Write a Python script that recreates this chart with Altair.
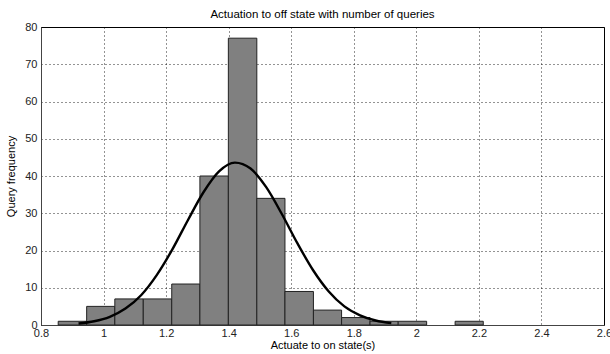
import altair as alt
import pandas as pd

# Histogram bin edges (s) and counts
edges = [0.855, 0.946, 1.036, 1.127, 1.218, 1.308, 1.399, 1.490, 1.580,
         1.671, 1.761, 1.852, 1.942, 2.033, 2.124, 2.214]
counts = [1, 5, 7, 7, 11, 40, 77, 34, 9, 4, 2, 1, 1, 0, 1]

# Fitted curve points
curve_x = [0.92, 0.97, 1.02, 1.07, 1.12, 1.17, 1.22, 1.27, 1.32, 1.37, 1.42,
           1.47, 1.52, 1.57, 1.62, 1.67, 1.72, 1.77, 1.82, 1.87, 1.92]
curve_y = [0.4, 1.0, 2.2, 4.4, 8.0, 13.4, 20.3, 28.2, 35.7, 41.3, 43.6,
           42.0, 37.0, 29.8, 21.9, 14.7, 9.0, 5.0, 2.6, 1.2, 0.5]

x_ticks = [0.8, 1.0, 1.2, 1.4, 1.6, 1.8, 2.0, 2.2, 2.4, 2.6]
y_ticks = [0, 10, 20, 30, 40, 50, 60, 70, 80]

bars = pd.DataFrame({
    "left": edges[:-1],
    "right": edges[1:],
    "count": counts,
})
bars = bars[bars["count"] > 0]
curve = pd.DataFrame({"x": curve_x, "y": curve_y})

FONT = "Liberation Sans"

x_scale = alt.Scale(domain=[0.8, 2.6], nice=False, zero=False)
y_scale = alt.Scale(domain=[0, 80], nice=False)

x_axis = alt.Axis(values=x_ticks, format="~g", title="Actuate to on state(s)",
                  grid=True, gridColor="#000", gridDash=[1, 3], gridOpacity=0.85,
                  labelFlush=False, labelOverlap=False, ticks=False, labelPadding=2,
                  domainColor="#444", titlePadding=1)
y_axis = alt.Axis(values=y_ticks, title="Query frequency", labelOverlap=False,
                  grid=True, gridColor="#000", gridDash=[1, 3], gridOpacity=0.85,
                  ticks=False, labelPadding=4, domainColor="#444", titlePadding=8)

hist = alt.Chart(bars).mark_rect(
    fill="#808080", stroke="#222", strokeWidth=1
).encode(
    x=alt.X("left:Q", scale=x_scale, axis=x_axis),
    x2="right:Q",
    y=alt.Y("count:Q", scale=y_scale, axis=y_axis),
    y2=alt.datum(0),
)

line = alt.Chart(curve).mark_line(
    color="#000", strokeWidth=2.4, interpolate="monotone"
).encode(
    x=alt.X("x:Q", scale=x_scale, axis=x_axis),
    y=alt.Y("y:Q", scale=y_scale, axis=y_axis),
)

chart = alt.layer(hist, line).properties(
    width=563,
    height=298,
    title=alt.TitleParams("Actuation to off state with number of queries",
                          font=FONT, fontSize=11.5, fontWeight="normal",
                          color="#000", offset=1, anchor="middle"),
    autosize=alt.AutoSizeParams(type="none"),
    padding={"left": 41, "top": 27, "right": 6, "bottom": 29},
    background="white",
).configure_view(
    stroke="#000", strokeWidth=1
).configure_axis(
    labelFont=FONT, labelFontSize=11, labelColor="#222",
    titleFont=FONT, titleFontSize=11, titleFontWeight="normal", titleColor="#000",
)

chart.save("out.html", embed_options={"renderer": "svg", "actions": False})
